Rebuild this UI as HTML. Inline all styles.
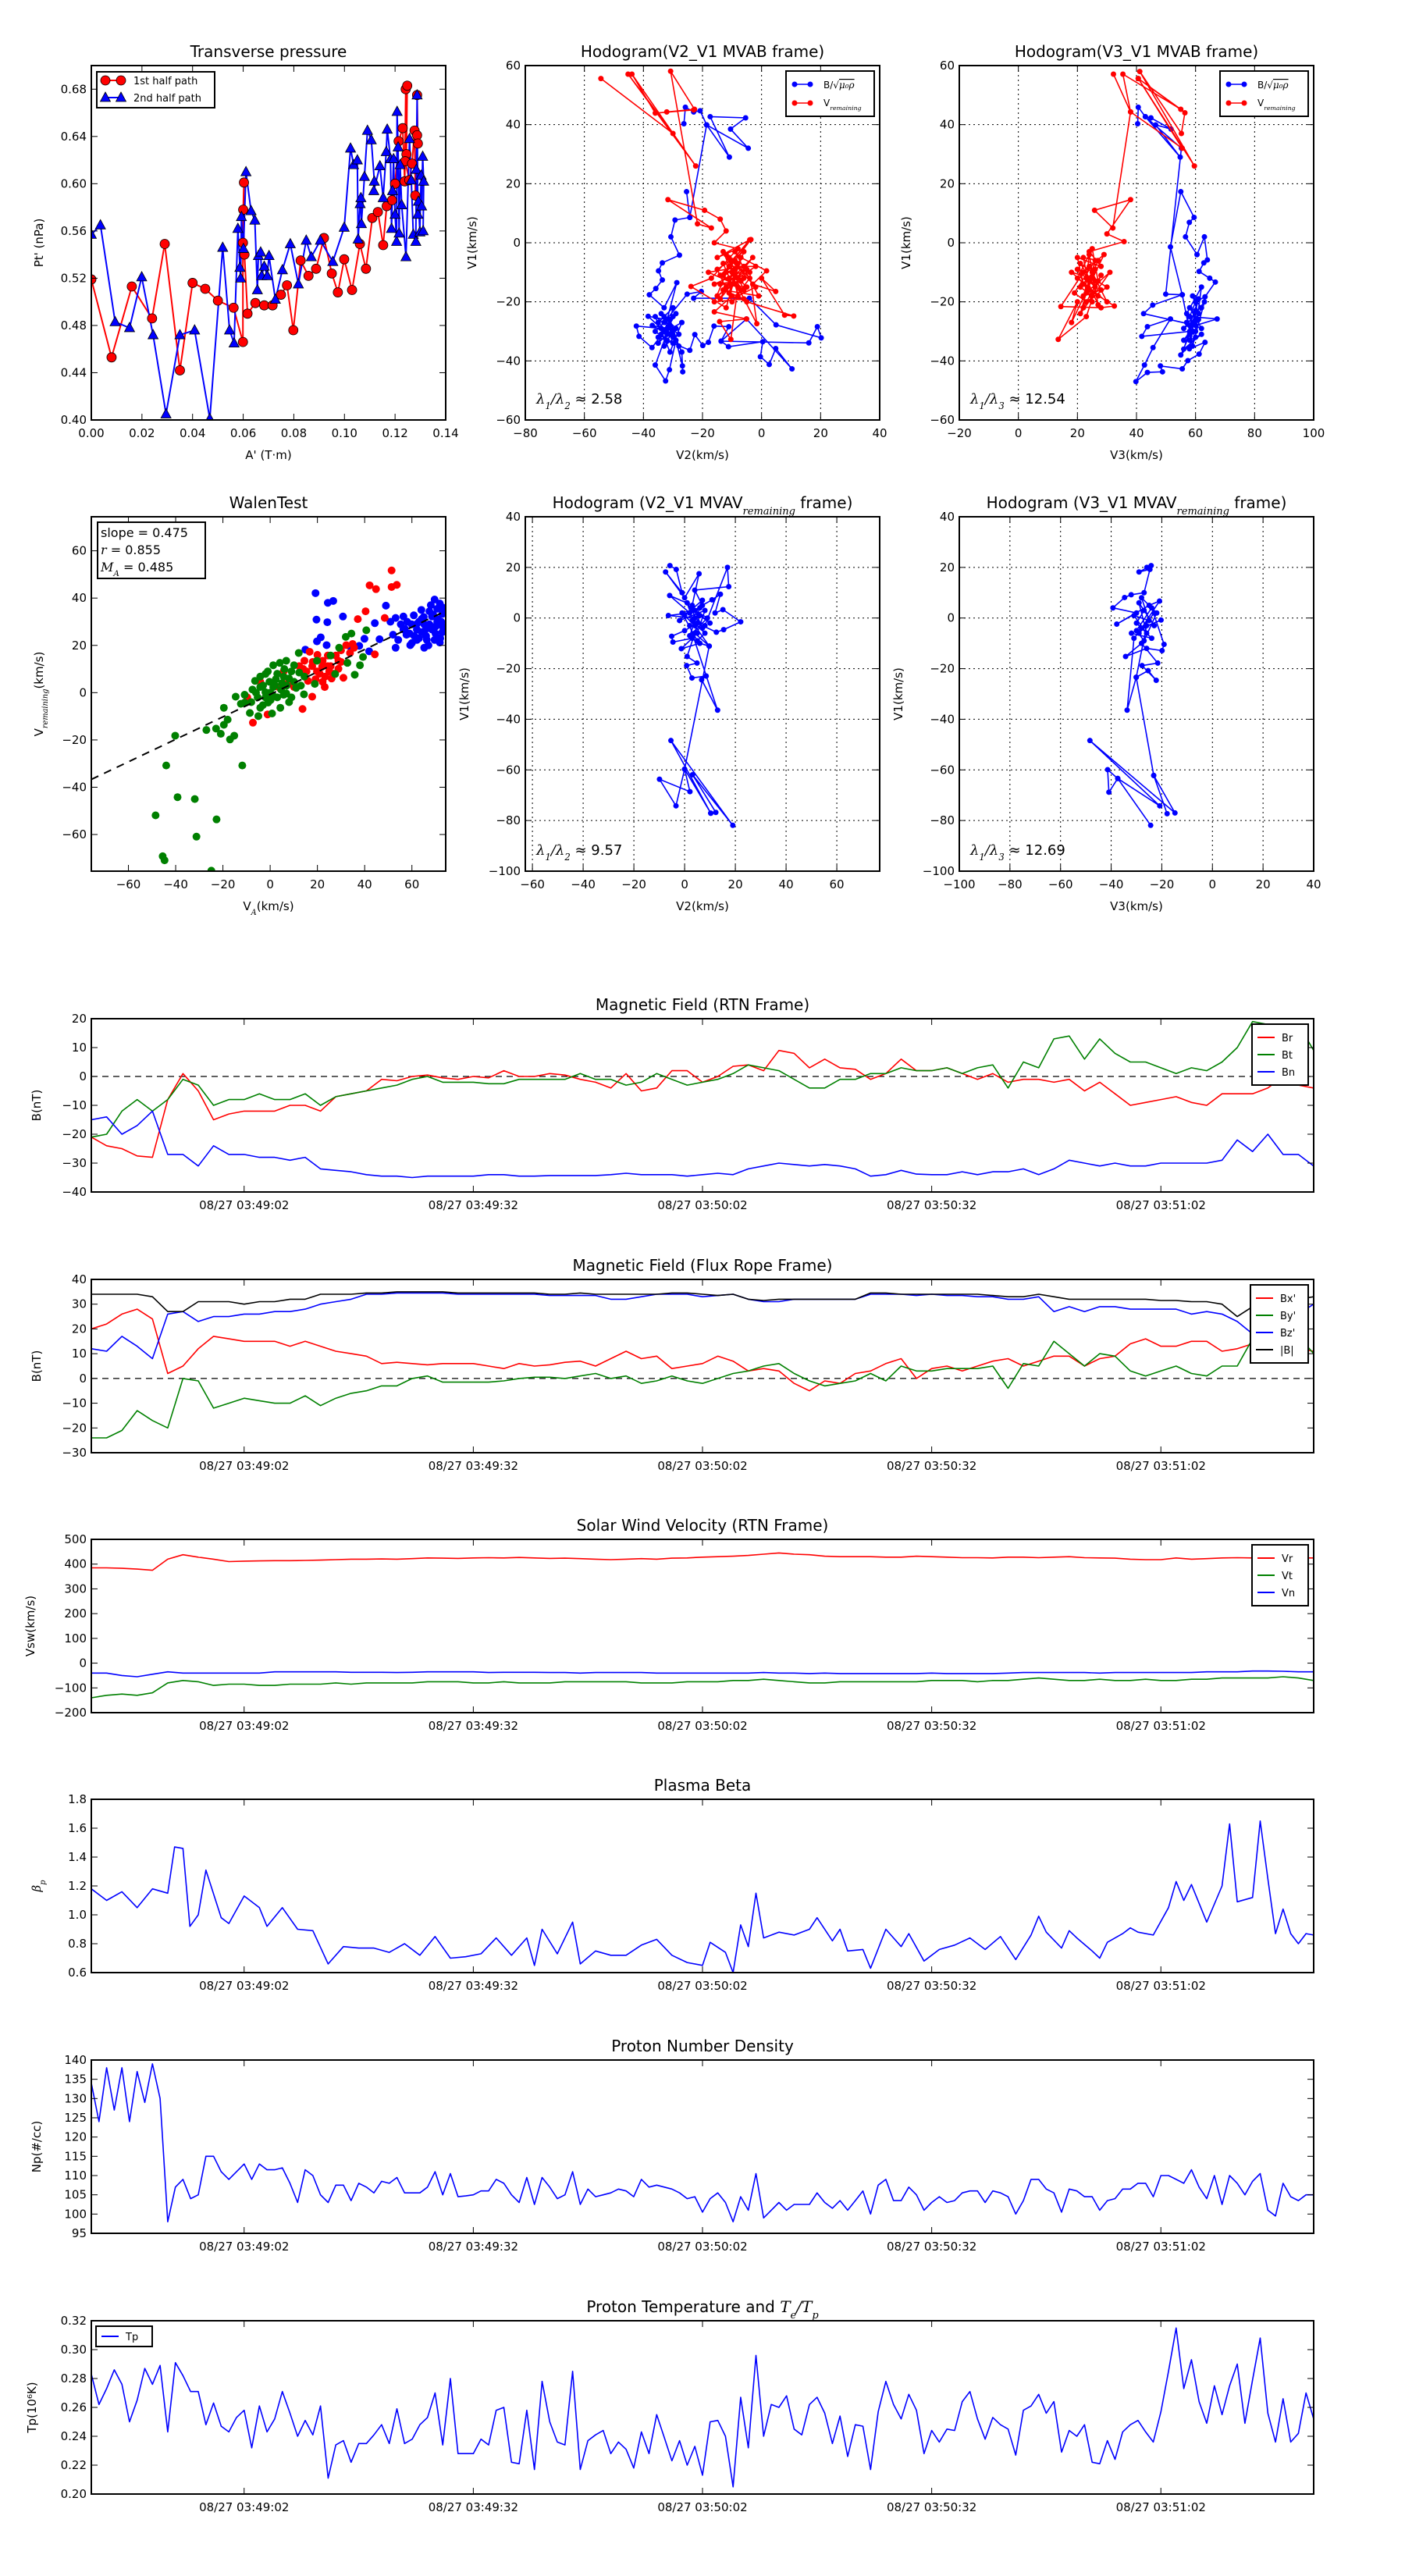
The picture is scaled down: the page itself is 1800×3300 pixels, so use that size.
<!DOCTYPE html>
<html><head><meta charset="utf-8"><title>Flux rope analysis</title>
<style>
html,body{margin:0;padding:0;background:#fff;}
svg{display:block;font-family:"DejaVu Sans","Liberation Sans",sans-serif;}
</style></head>
<body>
<svg id="fig" xmlns="http://www.w3.org/2000/svg" width="1800" height="3300" viewBox="0 0 1800 3300">
<rect x="0" y="0" width="1800" height="3300" fill="#fff"/>
</svg>
<script>
// ---------- DATA ----------
const timeTickSec = [20,50,80,110,140];
const timeTickLabels = ["08/27 03:49:02","08/27 03:49:32","08/27 03:50:02","08/27 03:50:32","08/27 03:51:02"];

const tpRed = [[0,0.519],[0.008,0.453],[0.016,0.513],[0.024,0.486],[0.029,0.549],[0.035,0.442],[0.040,0.516],[0.045,0.511],[0.050,0.501],[0.0562,0.495],[0.0599,0.466],[0.0599,0.550],[0.0603,0.601],[0.060,0.578],[0.0605,0.540],[0.0617,0.490],[0.0648,0.499],[0.0683,0.497],[0.0716,0.497],[0.0749,0.506],[0.0773,0.514],[0.0798,0.476],[0.0827,0.535],[0.0858,0.522],[0.0888,0.528],[0.0919,0.554],[0.095,0.524],[0.0974,0.508],[0.0999,0.536],[0.103,0.510],[0.1061,0.549],[0.1085,0.528],[0.111,0.571],[0.1132,0.576],[0.1153,0.548],[0.1167,0.581],[0.1188,0.586],[0.12,0.600],[0.1214,0.636],[0.123,0.647],[0.1238,0.602],[0.1242,0.680],[0.1248,0.683],[0.1245,0.625],[0.124,0.619],[0.1256,0.603],[0.1267,0.617],[0.1277,0.645],[0.128,0.590],[0.1287,0.641],[0.129,0.634],[0.1287,0.675]];
const tpBlue = [[0,0.557],[0.0036,0.565],[0.0094,0.483],[0.0151,0.478],[0.0199,0.521],[0.0244,0.472],[0.0295,0.405],[0.035,0.472],[0.0408,0.476],[0.0468,0.401],[0.0519,0.546],[0.0546,0.476],[0.0564,0.465],[0.0579,0.562],[0.0587,0.529],[0.059,0.520],[0.0593,0.572],[0.0601,0.545],[0.0611,0.610],[0.0631,0.577],[0.0646,0.569],[0.0656,0.510],[0.066,0.539],[0.0669,0.542],[0.0673,0.522],[0.0683,0.530],[0.0695,0.522],[0.0702,0.539],[0.0727,0.502],[0.0755,0.527],[0.0786,0.549],[0.0818,0.515],[0.0849,0.552],[0.0869,0.538],[0.0905,0.552],[0.0954,0.534],[0.0999,0.563],[0.1024,0.630],[0.1036,0.616],[0.1051,0.620],[0.1054,0.553],[0.1062,0.583],[0.1065,0.588],[0.1067,0.566],[0.1079,0.606],[0.1091,0.645],[0.1106,0.637],[0.1118,0.602],[0.1116,0.594],[0.1140,0.615],[0.1153,0.588],[0.1165,0.627],[0.1169,0.646],[0.1182,0.621],[0.1186,0.562],[0.119,0.594],[0.1194,0.621],[0.12,0.574],[0.1206,0.551],[0.1208,0.661],[0.1212,0.631],[0.1216,0.558],[0.122,0.616],[0.1226,0.582],[0.1243,0.538],[0.1257,0.638],[0.1264,0.603],[0.1272,0.557],[0.1282,0.551],[0.1284,0.612],[0.1287,0.675],[0.129,0.574],[0.1292,0.585],[0.1298,0.559],[0.1303,0.607],[0.1305,0.581],[0.1309,0.623],[0.1313,0.602],[0.1311,0.560]];

const hodoAB = [[-26.3,40.3],[-25.8,45.9],[-23,44.3],[-20.8,44.7],[-18.6,39.9],[-10.9,29],[-17.4,42.7],[-5.4,42.3],[-10.5,38.5],[-4.5,32],[-18.6,39.9],[-24.3,8.6],[-25.4,17.3],[-24.3,8.6],[-29.3,7.7],[-30.7,2],[-27.8,-4.2],[-33.6,-6.8],[-34.9,-9.5],[-33.6,-12.6],[-35.8,-15.5],[-38,-17.6],[-33,-22],[-28.7,-13.5],[-32,-26],[-38.4,-24.9],[-34,-29],[-42.4,-28.2],[-41.5,-31.7],[-37.1,-35.5],[-33,-30],[-30,-25],[-36,-41.4],[-32.5,-46.8],[-31.2,-43],[-29,-33],[-26.8,-41.7],[-26.7,-43.7],[-27,-37],[-31,-28],[-35,-32],[-30,-34],[-24.3,-36.4],[-22.6,-31.1],[-19.9,-34.8],[-18,-33.7],[-16.1,-28.2],[-11.1,-28.4],[-13.7,-33.3],[-11.2,-35.2],[0.4,-33.5],[-0.4,-38.6],[2.6,-41.2],[4.8,-35.8],[10.3,-42.7],[-5.1,-25.8],[-13.7,-33.3],[16,-33.9],[18.9,-28.4],[20.2,-32.2],[4.9,-27.8],[-4.1,-18.8],[-23,-18.8],[-20.4,-16.5],[-25.2,-17.4],[-33,-27],[-36,-30],[-32,-33],[-29,-29],[-34,-24],[-31,-31],[-35,-27],[-30,-22],[-33,-35],[-28,-31],[-36,-25],[-31,-37],[-27,-27],[-34,-31],[-29,-24],[-32,-29],[-37,-28],[-30,-32],[-33,-25],[-28,-35],[-31,-26],[-35,-34],[-32,-31]];
const hodoAV = [[-54.4,55.6],[-30,37],[-45.2,57.1],[-22.3,26],[-43.9,57.1],[-36,43.9],[-23,45],[-32.1,44.3],[-22.7,45.2],[-30.8,58.1],[-21.7,6.4],[-17,5],[-31.7,14.6],[-19.3,11],[-14,8],[-12,4],[-16,0],[-8,-2],[-15,-5],[-4,1],[-10,-6],[-3.6,1.1],[-12,-10],[-6,-8],[-18,-10],[-9,-14],[-14,-14],[-5,-15],[-8,-12],[-2,-8],[-11,-8],[-16,-20],[-6,-19],[-13,-16],[-1,-18],[-9,-3],[-17,-12],[-23.9,-14.8],[-12,-22],[-7,-5],[1.7,-9.5],[-3,-14],[4.8,-16.5],[0,-12],[7.8,-24.5],[10.9,-24.8],[-5,-20],[-10,-18],[-16,-23.4],[-5.1,-25.8],[-14.2,-26.7],[-10.4,-32.7],[-8,-15],[-1.6,-27.4],[-4,-10],[-13,-7],[-10,-14],[-15,-18],[-6,-12],[-11,-12],[-9,-9],[-13,-11],[-7,-16],[-12,-4],[-4,-12],[-10,-20],[-15,-9],[-6,-3],[-11,-17],[-8,-7],[-14,-19],[-3,-5],[-9,-11],[-12,-15],[-5,-9],[-16,-14],[-7,-13],[-10,-10],[-13,-3],[-2,-15],[-8,-18],[-11,-5],[-6,-16],[-14,-11],[-9,-6]];
const hodoBB = [[40.4,40.3],[40.6,45.9],[43,42.7],[44.9,42.3],[51.7,38.5],[46.5,39.9],[54.8,29],[43,42.7],[55.2,32],[49.9,-17.4],[55.5,-17.6],[51.5,-1.4],[55,17.3],[59.5,8.6],[57.9,6.9],[56.6,2],[60.5,-4],[63,2],[64,-5.8],[62.8,-6.8],[61.2,-9.7],[64.8,-12],[66.7,-13.3],[63.2,-18.3],[60,-20],[58,-25],[67.3,-25.8],[60,-28],[42.4,-24],[45.5,-21.1],[55.5,-17.6],[58,-30],[41.8,-31.7],[43.7,-28.4],[51.5,-25.8],[45.6,-35.5],[42.7,-41.4],[39.8,-47],[43.7,-43.9],[48.8,-43.7],[48.1,-41.7],[55.5,-42.7],[57.4,-39.9],[61.2,-37.7],[63.2,-33.7],[57.9,-35.9],[59,-30],[56,-33],[61,-26],[58,-22],[62,-29],[57,-27],[60,-32],[55,-38],[62,-22],[59,-18],[61,-24],[58,-31],[60,-26],[56,-29],[63,-20],[59,-35],[57,-24],[62,-15],[60,-30],[58,-28],[61,-19],[59,-27],[56,-36],[62,-31],[58,-33],[60,-23]];
const hodoBV = [[32.2,57.1],[38,44.3],[35.4,57.1],[55,45.2],[40.6,55.6],[56.4,44],[55.2,37],[41.1,58],[59.6,26],[40.6,55.6],[55.5,32],[38,44.3],[32,5],[25.8,11],[38,14.6],[30,3],[35.8,0.4],[24,-3],[28,-8],[20,-5],[22,-14],[27,-18],[18,-10],[25,-12],[30,-15],[23,-20],[19,-17],[26,-6],[21,-24],[31,-10],[24,-16],[32.5,-21.4],[28,-22],[14.4,-21.6],[22,-10],[29,-4],[18,-27],[20,-20],[13.5,-32.7],[23,-25],[27,-13],[25,-2],[20,-12],[30,-20],[24,-8],[28,-16],[22,-18],[25,-10],[21,-7],[26,-15],[23,-12],[27,-21],[24,-4],[22,-22],[28,-11],[25,-18],[21,-15],[26,-9],[23,-17],[24,-13],[27,-6],[22,-5],[25,-20],[20,-9],[26,-13]];

const walenGreen = [[-40.2,-18.2],[-44,-30.8],[-11.8,-30.8],[-39.2,-44.2],[-31.9,-45],[-48.5,-51.9],[-22.7,-53.6],[-31.2,-60.9],[-45.5,-69.2],[-44.7,-70.9],[-24.9,-75.3],[-27,-15.8],[-17,-19.8],[-20.9,-17.4],[-15.2,-18.2],[-22.9,-15.2],[-19.6,-13.6],[-18,-11.4],[-19.6,-6.4],[-14.6,-1.7],[-10.8,-0.9],[-8.6,-8.6],[-5,-9.9],[0.8,-8.8],[4.3,-6.4],[8,-4],[14.3,-0.7],[18.9,3.7],[12.1,16.8],[19.8,13.5],[25.6,15.7],[29.2,19],[32,23.6],[34.4,25],[40.7,26.4],[39.3,15.1],[38,11.6],[35.8,7.6],[32.7,12.6],[27.5,7.9],[1.3,11.6],[4.1,12.6],[6.8,13.5],[10.1,11.6],[-6.4,5],[-4.2,6.8],[-2,7.9],[-0.3,4.6],[2.4,5.7],[5.7,6.8],[9,9],[12.3,8.5],[14.5,6.8],[-7.5,1.3],[-4.2,2.4],[-2,0.2],[1.3,2.4],[4.6,1.3],[6.8,-0.3],[10.1,4.6],[-5.3,-2],[-3.1,-5.3],[0.2,-3.1],[3,-2],[5.7,-0.9],[-12.4,-4.7],[-10.8,-4.2],[-4.2,-6.4],[-0.9,-4.2],[0,0],[2,3],[-2,-2],[7,3],[3,8],[-1,9],[8,6],[11,2],[-6,0],[1,-1],[5,4],[-3,3],[9,-2],[6,10],[-8,-4],[13,3]];
const walenRed = [[51.4,51.7],[42.1,45.4],[44.8,43.8],[51.4,44.7],[53.6,45.6],[40.4,34.4],[37.1,31.1],[48.5,31.6],[44.3,16.2],[34.9,20.6],[33.8,16.8],[31,6.3],[24.4,11.2],[22.2,4.6],[23.1,2.4],[17.8,-1.7],[13.7,-6.9],[-7.3,-12.7],[-1.1,-9.2],[-9.7,-2],[16.7,17.3],[14.5,13.5],[17.8,11.2],[19.8,9],[22.2,13.5],[25.6,11.2],[27.8,15.7],[30,17.9],[32.2,20.1],[15.4,9],[12.3,11.2],[10.1,2.4],[7.9,4.6],[5.7,9],[3.5,2.4],[-4.2,4.6],[23.3,6.8],[28.9,10.1],[24.4,15.7],[35.5,19],[28.9,13.5],[19.2,5.7],[21,8],[18,13],[26,6],[16,5],[20,16],[25,9],[30,13],[14,10],[22,11],[27,8]];
const walenBlue = [[19.2,42.1],[24.4,38],[26.7,38.8],[19.6,30.9],[24.2,29.8],[30.8,32.2],[49,36.8],[44.3,29.4],[19.8,21.7],[21.4,23.4],[23.9,20.1],[39.9,22.8],[46.3,22.6],[37.7,19.8],[34.1,19.2],[41.9,17.5],[14.9,18.2],[50.9,30],[53.1,31.6],[56.4,32.2],[60.8,32.7],[64.1,31.1],[67.4,34.4],[69.6,39.4],[71.8,37.7],[72.9,33.3],[70.7,30],[68.5,26.7],[66.3,22.3],[65.2,19],[62.1,22.3],[59.9,28.9],[56.4,26.7],[53.1,19],[52,24.5],[54.2,22.3],[59.3,20.1],[57.7,24.5],[64.1,25.6],[62.1,26.7],[72.9,25.6],[71.8,21.2],[69.6,22.3],[67.4,28.9],[72.4,30],[65.2,28.9],[74,35.5],[55.3,28.9],[63,30],[68.5,32.2],[70.7,35.5],[58,30],[61,24],[66,27],[70,25],[73,28],[69,33],[64,35],[60,21],[67,20],[71,31],[57,27],[63,23],[68,37],[72,23],[65,32],[62,29],[66,24],[70,28],[59,25],[73,36]];
const walenSlope = 0.475;
const walenIntercept = -0.74;

const hodoCV = [[-5.8,20.7],[-3.3,19.2],[-1,10],[-7.5,18.2],[0,8],[5.7,17.5],[3,5],[-5.9,8.9],[2,2],[-6.4,1],[4,0],[8,-3],[16.9,20],[17.4,12.4],[4,11],[7,5],[10.8,7.2],[14.1,9.4],[12,2],[15.1,3.3],[22.1,-1.5],[15.4,-4.6],[12.5,-5.6],[5,-2],[0,-5],[-5.1,-7.2],[-4.6,-9.5],[3,-8],[-1.3,-12.1],[6,-10],[9.7,-11.1],[4,-6],[1,-15.2],[4.9,-17.8],[0.8,-18.8],[2.9,-23.7],[8.5,-22.9],[6.7,-24.4],[13,-36.4],[2,-3],[6,1],[10,-2],[3,4],[-2,-1],[8,3],[5,-6],[1,6],[7,-4],[4,3],[9,0],[2,-7],[6,4],[-1,2],[5,-9],[8,-6],[3,-1],[7,7],[0,1],[4,-3],[9.7,-11.1],[0,-59.7],[2.1,-68.6],[-9.9,-63.7],[-3.4,-74.2],[0,-59.7],[10.3,-77.1],[-5.4,-48.4],[19,-81.9],[3.1,-61.9],[12.3,-76.8],[10.3,-77.1]];
const hodoDV = [[-25.9,20],[-24.2,20.7],[-29,18.2],[-24.7,19.2],[-27,10],[-32.1,9.2],[-34.7,8.1],[-39.3,4],[-30,2],[-37.8,-2.4],[-25,5],[-20.9,6.7],[-28,-4],[-20.3,-0.8],[-32,-6],[-24,-8],[-30,-2],[-27,3],[-23,-3],[-29,6],[-26,-6],[-31,1],[-25,-1],[-28,8],[-22,2],[-27,-9],[-30,-5],[-24,4],[-19.1,-10.4],[-19.9,-12.9],[-26,-12],[-34.3,-15.2],[-28,-10],[-21.6,-17.8],[-27.8,-18.8],[-22.2,-24.6],[-25.4,-20.8],[-30.1,-23.4],[-33.7,-36.4],[-31,-8],[-23,2],[-29,-6],[-26,-3],[-30.1,-23.4],[-23.2,-62.2],[-17.9,-77.3],[-23.2,-62.2],[-14.8,-77],[-48.4,-48.4],[-20.8,-74.2],[-37.4,-63.4],[-41.4,-59.9],[-40.9,-68.8],[-37.4,-63.4],[-24.4,-81.9]];

// time series (evenly spaced over 0..160 s)
const brVals = [-21,-24,-25,-27.5,-28,-8,1,-5,-15,-13,-12,-12,-12,-10,-10,-12,-7,-6,-5,-1,-1.5,0,0.5,-0.5,-1,0,-0.5,2,0,0,1,0.5,-1,-2,-4,1,-5,-4,2,2,-2,0,3.5,4,2,9,8,3,6,3,2.5,-1,1,6,2,2,3,1,-1,1,-2,-1,-1,-2,-1,-5,-2,-6,-10,-9,-8,-7,-9,-10,-6,-6,-6,-4,0,-3,-4];
const btVals = [-21,-20,-12,-8,-12,-8,-1,-3,-10,-8,-8,-6,-8,-8,-6,-10,-7,-6,-5,-4,-3,-1,0,-2,-2,-2,-2.5,-2.5,-1,-1,-1,-1,1,-1,-1,-3,-2,1,-1,-3,-2,-1,1,4,3,2,-1,-4,-4,-1,-1,1,1,3,2,2,3,1,3,4,-4,5,3,13,14,6,13,8,5,5,3,1,3,2,5,10,19,18,17,18,9];
const bnVals = [-15,-14,-20,-17,-12,-27,-27,-31,-24,-27,-27,-28,-28,-29,-28,-32,-32.5,-33,-34,-34.5,-34.5,-35,-34.5,-34.5,-34.5,-34.5,-34,-34,-34.5,-34.5,-34.3,-34.3,-34.3,-34.3,-34,-33.5,-34,-34,-34,-34.5,-34,-33.5,-34,-32,-31,-30,-30.5,-31,-30.5,-31,-32,-34.5,-34,-32.5,-33.8,-34,-34,-33,-34,-33,-33,-32,-34,-32,-29,-30,-31,-30,-31,-31,-30,-30,-30,-30,-29,-22,-26,-20,-27,-27,-31];
const bxVals = [20,22,26,28,24,2,5,12,17,16,15,15,15,13,15,13,11,10,9,6,6.5,6,5.5,6,6,6,5,4,6,5,5.5,6.5,7,5,8,11,8,9,4,5,6,9,7,3,4,3,-2,-5,-1,-2,2,3,6,8,0,4,5,3,5,7,8,5,7,9,9,5,8,9,14,16,13,13,15,15,11,12,14,10,9,12,11];
const byVals = [-24,-24,-21,-13,-17,-20,0,-1,-12,-10,-8,-9,-10,-10,-7,-11,-8,-6,-5,-3,-3,0,1,-1.5,-1.5,-1.5,-1.5,-1,0,0.5,0.5,0,1,2,0,1,-2,-1,1,-1,-2,0,2,3,5,6,2,-1,-3,-2,-1,2,-1,5,3,3,4,4,4,5,-4,6,5,15,10,5,10,9,3,1,3,5,2,1,5,5,16,17,18,17,10];
const bzVals = [12,11,17,13,8,26,27,23,25,25,26,26,27,27,28,30,31,32,34,34,34.5,34.5,34.5,34.5,34,34,34,34,34,34,33.5,33.5,33.5,33.5,32,32,33,34,34,34,33,33.5,34,32,31,31,32,32,32,32,32,34,34,34,33.5,34,33.5,33.5,33,33,32,32,33,27,29,27,29,29,28,28,28,28,26,27,26,23,18,22,25,26,30];
const btotVals = [34,34,34,34,33,27,27,31,31,31,30,31,31,32,32,34,34,34,34.5,34.5,35,35,35,35,34.5,34.5,34.5,34.5,34.5,34.5,34,34,34.5,34,34,34,34,34,34.5,34.5,34,33.5,34,32,31.5,32,32,32,32,32,32,34.5,34.5,34,34,34,34,34,34,33.5,33,33,34,33,32,32,32,32,32,32,31.5,31.5,31,31,30,25,29,31,31,32,33];
const vrVals = [385,385,383,380,375,420,438,428,420,410,412,413,414,414,415,416,418,420,420,421,420,422,425,424,423,425,426,425,427,425,423,424,422,420,418,420,422,420,424,425,428,430,432,435,440,445,440,438,432,430,430,430,428,428,432,430,428,426,426,425,428,428,426,428,430,426,425,424,420,418,418,425,420,422,425,426,425,424,422,425,425];
const vtVals = [-140,-130,-125,-130,-120,-80,-70,-75,-90,-85,-85,-90,-90,-85,-85,-85,-80,-85,-80,-80,-80,-80,-75,-75,-75,-80,-80,-75,-80,-80,-80,-75,-75,-75,-75,-75,-80,-80,-80,-75,-75,-75,-70,-70,-65,-70,-75,-80,-80,-75,-75,-75,-75,-75,-75,-70,-70,-70,-75,-70,-70,-65,-60,-65,-70,-70,-65,-70,-70,-65,-70,-70,-65,-65,-60,-60,-60,-60,-55,-60,-70];
const vnVals = [-40,-40,-50,-55,-45,-35,-40,-40,-40,-40,-40,-40,-35,-35,-35,-35,-35,-37,-37,-37,-38,-37,-35,-35,-35,-35,-38,-37,-37,-37,-38,-38,-40,-38,-38,-38,-38,-40,-40,-40,-40,-40,-40,-40,-38,-40,-40,-42,-40,-42,-42,-42,-42,-42,-42,-40,-42,-42,-42,-42,-40,-38,-38,-38,-38,-38,-40,-38,-38,-38,-38,-38,-38,-35,-35,-35,-32,-32,-33,-35,-35];
const betaT = [0,2,4,6,8,10,10.9,12,12.9,14,15,17,18,20,22,23,25,27,29,31,33,35,37,39,41,43,45,47,49,51,53,55,57,58,59,61,63,64,66,68,70,72,74,76,78,80,81,83,84,85,86,87,88,90,92,94,95,97,98,99,101,102,104,106,107,109,111,113,115,117,119,121,123,124,125,127,128,129,131,132,133,135,136,137,139,141,142,143,144,146,148,149,150,152,153,154,155,156,157,158,159,160];
const betaVals = [1.18,1.1,1.16,1.05,1.18,1.15,1.47,1.46,0.92,1.0,1.31,0.98,0.94,1.13,1.05,0.92,1.05,0.9,0.89,0.66,0.78,0.77,0.77,0.74,0.80,0.72,0.85,0.70,0.71,0.73,0.84,0.72,0.84,0.65,0.9,0.73,0.95,0.66,0.75,0.72,0.72,0.79,0.83,0.72,0.67,0.65,0.81,0.74,0.6,0.93,0.78,1.15,0.84,0.88,0.86,0.90,0.98,0.82,0.90,0.75,0.76,0.63,0.90,0.78,0.87,0.68,0.76,0.79,0.84,0.76,0.85,0.69,0.86,0.99,0.88,0.77,0.89,0.84,0.75,0.70,0.81,0.87,0.91,0.88,0.86,1.05,1.23,1.10,1.21,0.95,1.2,1.63,1.09,1.12,1.65,1.25,0.87,1.04,0.87,0.8,0.87,0.86];
const npVals = [134,124,138,127,138,124,137,129,139,130,98,107,109,104,105,115,115,111,109,111,113,109,113,111.5,111.5,112,108,103,111.5,110,105,103,107.5,107.5,103.5,108,107,105.5,108.5,108,109.5,105.5,105.5,105.5,107,111,105,110.5,104.5,104.7,105,106,106,109,108,105,103,109.5,102.5,109.5,107,104,105,111,102.5,106.5,104.5,105,105.5,106.5,106,104.5,109,107,107.5,107,106.5,105.5,104,104.5,100.5,104,105.5,103,98,104.5,101,110.5,99,101,103,101,102.5,102.5,102.5,105.5,103,101.5,103.5,101,103.5,106,100,107.5,109,103.5,103.5,107,105,101,103,104.5,103,103.5,105.5,106,106,103,106,105.5,104.5,100,103.5,109,109,106.5,105.5,100.5,106.5,106,104.5,104.5,101,103.5,104,106.5,106.5,108,108,104.5,110,110,109,108,111.5,107,104,110,102.5,110,108,105,108.5,110.5,101,99.5,108,104.5,103.5,105,105];
const tpVals = [0.283,0.262,0.273,0.286,0.276,0.25,0.265,0.287,0.276,0.289,0.243,0.291,0.282,0.271,0.271,0.248,0.263,0.247,0.243,0.253,0.258,0.232,0.261,0.243,0.252,0.271,0.256,0.24,0.251,0.241,0.261,0.211,0.234,0.237,0.222,0.235,0.235,0.241,0.248,0.235,0.259,0.235,0.238,0.248,0.253,0.27,0.234,0.28,0.228,0.228,0.228,0.238,0.234,0.258,0.26,0.222,0.221,0.258,0.217,0.278,0.25,0.236,0.234,0.285,0.217,0.237,0.241,0.244,0.228,0.236,0.231,0.218,0.243,0.228,0.255,0.239,0.223,0.237,0.22,0.233,0.213,0.25,0.251,0.24,0.205,0.267,0.232,0.296,0.24,0.262,0.26,0.268,0.245,0.241,0.262,0.267,0.256,0.235,0.254,0.226,0.248,0.247,0.217,0.257,0.278,0.262,0.252,0.269,0.258,0.228,0.244,0.236,0.245,0.244,0.264,0.271,0.252,0.238,0.253,0.248,0.245,0.227,0.258,0.261,0.269,0.256,0.264,0.229,0.244,0.24,0.248,0.222,0.221,0.237,0.224,0.243,0.248,0.251,0.243,0.236,0.257,0.285,0.315,0.273,0.293,0.264,0.249,0.275,0.255,0.275,0.29,0.249,0.279,0.308,0.256,0.236,0.266,0.236,0.242,0.27,0.252];

// ---------- DRAWING ----------
const NS = 'http://www.w3.org/2000/svg';
const svg = document.getElementById('fig');
function el(tag, attrs, parent) {
  const e = document.createElementNS(NS, tag);
  for (const k in attrs) e.setAttribute(k, attrs[k]);
  (parent || svg).appendChild(e);
  return e;
}
function txt(str, attrs, parent) {
  const e = el('text', attrs, parent);
  e.textContent = str;
  return e;
}
const RED = '#ff0000', GREEN = '#008000', BLUE = '#0000ff';

function makeAxes(name, L, T, W, H, xr, yr, xticks, xlabels, yticks, ylabels, grid) {
  const g = el('g', {});
  
  
  const sx = v => L + (v - xr[0]) / (xr[1] - xr[0]) * W;
  const sy = v => T + H - (v - yr[0]) / (yr[1] - yr[0]) * H;
  const cp = el('clipPath', { id: name + '-clip' }, g);
  el('rect', { x: L, y: T, width: W, height: H }, cp);
  if (grid) {
    const gg = el('g', { stroke: '#000', 'stroke-width': 1, 'stroke-dasharray': '2,4' }, g);
    
    
    xticks.forEach(v => { const x = sx(v); el('line', { x1: x, x2: x, y1: T, y2: T + H }, gg); });
    yticks.forEach(v => { const y = sy(v); el('line', { x1: L, x2: L + W, y1: y, y2: y }, gg); });
  }
  const dataG = el('g', { 'clip-path': 'url(#' + name + '-clip)' }, g);
  
  
  const tg = el('g', { stroke: '#000', 'stroke-width': 1 }, g);
  xticks.forEach(v => { const x = sx(v);
    el('line', { x1: x, x2: x, y1: T + H, y2: T + H - 8 }, tg);
    el('line', { x1: x, x2: x, y1: T, y2: T + 8 }, tg); });
  yticks.forEach(v => { const y = sy(v);
    el('line', { x1: L, x2: L + 8, y1: y, y2: y }, tg);
    el('line', { x1: L + W, x2: L + W - 8, y1: y, y2: y }, tg); });
  const xl = el('g', { 'font-size': 15, 'text-anchor': 'middle', fill: '#000' }, g);
  
  
  xticks.forEach((v, i) => { txt(xlabels[i], { x: sx(v), y: T + H + 22 }, xl); });
  const yl = el('g', { 'font-size': 15, 'text-anchor': 'end', fill: '#000' }, g);
  
  
  yticks.forEach((v, i) => { txt(ylabels[i], { x: L - 6, y: sy(v) + 5 }, yl); });
  const fr = el('rect', { x: L, y: T, width: W, height: H, fill: 'none', stroke: '#000', 'stroke-width': 2 }, g);
  
  
  return { sx, sy, g, dataG, L, T, W, H };
}
function title(ax, str, name) {
  const t = txt(str, { x: ax.L + ax.W / 2, y: ax.T - 11, 'font-size': 20, 'text-anchor': 'middle' }, ax.g);
  
  
  return t;
}
function ylab(ax, str, x, name) {
  const cy = ax.T + ax.H / 2;
  const t = txt(str, { x: x, y: cy, 'font-size': 15, 'text-anchor': 'middle', transform: 'rotate(-90 ' + x + ' ' + cy + ')' }, ax.g);
  
  
  return t;
}
function xlab(ax, str, name) {
  const t = txt(str, { x: ax.L + ax.W / 2, y: ax.T + ax.H + 50, 'font-size': 15, 'text-anchor': 'middle' }, ax.g);
  
  
  return t;
}
function addSpan(t, str, attrs) { const s = el('tspan', attrs || {}, t); s.textContent = str; return s; }
function pathFromPts(ax, pts) {
  return pts.map((p, i) => (i ? 'L' : 'M') + ax.sx(p[0]).toFixed(1) + ',' + ax.sy(p[1]).toFixed(1)).join('');
}
const M = '\u2212';
function fmt(v, d) { const s = Math.abs(v).toFixed(d); return (v < 0 ? M : '') + s; }

// ---- Panel 1: transverse pressure ----
{
  const xt = [0, 0.02, 0.04, 0.06, 0.08, 0.10, 0.12, 0.14];
  const yt = [0.40, 0.44, 0.48, 0.52, 0.56, 0.60, 0.64, 0.68];
  const ax = makeAxes('transverse-pressure-chart', 117, 84, 454, 454, [0, 0.14], [0.40, 0.70], xt, xt.map(v => v.toFixed(2)), yt, yt.map(v => v.toFixed(2)), false);
  title(ax, 'Transverse pressure', 'transverse-pressure-title');
  ylab(ax, "Pt' (nPa)", 55, 'pt-y-axis-title');
  xlab(ax, "A' (T\u00b7m)", 'a-x-axis-title');
  const lr = el('path', { d: pathFromPts(ax, tpRed), fill: 'none', stroke: RED, 'stroke-width': 2 }, ax.dataG);
  
  
  const lb = el('path', { d: pathFromPts(ax, tpBlue), fill: 'none', stroke: BLUE, 'stroke-width': 2 }, ax.dataG);
  
  
  tpRed.forEach(p => {
    const c = el('circle', { cx: ax.sx(p[0]), cy: ax.sy(p[1]), r: 6, fill: RED, stroke: '#000', 'stroke-width': 0.8 }, ax.dataG);
    
    
  });
  tpBlue.forEach(p => {
    const x = ax.sx(p[0]), y = ax.sy(p[1]);
    const c = el('polygon', { points: `${x},${y - 7} ${x - 6.5},${y + 5} ${x + 6.5},${y + 5}`, fill: BLUE, stroke: '#000', 'stroke-width': 0.8 }, ax.dataG);
    
    
  });
  const lg = el('g', {}, ax.g);
  
  
  el('rect', { x: 124, y: 92, width: 151, height: 46, fill: '#fff', stroke: '#000', 'stroke-width': 2 }, lg);
  el('line', { x1: 135, x2: 155, y1: 103, y2: 103, stroke: RED, 'stroke-width': 2 }, lg);
  el('circle', { cx: 135, cy: 103, r: 6, fill: RED, stroke: '#000', 'stroke-width': 0.8 }, lg);
  el('circle', { cx: 155, cy: 103, r: 6, fill: RED, stroke: '#000', 'stroke-width': 0.8 }, lg);
  txt('1st half path', { x: 171, y: 108, 'font-size': 13 }, lg);
  el('line', { x1: 135, x2: 155, y1: 125, y2: 125, stroke: BLUE, 'stroke-width': 2 }, lg);
  el('polygon', { points: '135,118 128.5,130 141.5,130', fill: BLUE, stroke: '#000', 'stroke-width': 0.8 }, lg);
  el('polygon', { points: '155,118 148.5,130 161.5,130', fill: BLUE, stroke: '#000', 'stroke-width': 0.8 }, lg);
  txt('2nd half path', { x: 171, y: 130, 'font-size': 13 }, lg);
}

function hodoLegend(ax, x, y, name) {
  const lg = el('g', {}, ax.g);
  
  
  el('rect', { x: x, y: y, width: 113, height: 58, fill: '#fff', stroke: '#000', 'stroke-width': 2 }, lg);
  el('line', { x1: x + 11, x2: x + 31, y1: y + 17, y2: y + 17, stroke: BLUE, 'stroke-width': 1.5 }, lg);
  el('circle', { cx: x + 11, cy: y + 17, r: 3.5, fill: BLUE }, lg);
  el('circle', { cx: x + 31, cy: y + 17, r: 3.5, fill: BLUE }, lg);
  const t1 = txt('B/\u221a', { x: x + 48, y: y + 22, 'font-size': 12 }, lg);
  addSpan(t1, '\u03bc\u2080\u03c1', { 'font-style': 'italic', 'font-family': 'DejaVu Serif, serif', 'text-decoration': 'overline' });
  el('line', { x1: x + 11, x2: x + 31, y1: y + 41, y2: y + 41, stroke: RED, 'stroke-width': 1.5 }, lg);
  el('circle', { cx: x + 11, cy: y + 41, r: 3.5, fill: RED }, lg);
  el('circle', { cx: x + 31, cy: y + 41, r: 3.5, fill: RED }, lg);
  const t2 = txt('V', { x: x + 48, y: y + 45, 'font-size': 12 }, lg);
  addSpan(t2, 'remaining', { 'baseline-shift': 'sub', 'font-size': '65%', 'font-style': 'italic', 'font-family': 'DejaVu Serif, serif' });
}
function lambdaText(ax, a, b, val, name) {
  const t = txt('\u03bb', { x: ax.L + 14, y: ax.T + ax.H - 21, 'font-size': 18, 'font-family': 'DejaVu Serif, serif', 'font-style': 'italic' }, ax.g);
  addSpan(t, a, { 'baseline-shift': 'sub', 'font-size': '65%' });
  addSpan(t, '/\u03bb', { 'baseline-shift': '0' });
  addSpan(t, b, { 'baseline-shift': 'sub', 'font-size': '65%' });
  addSpan(t, ' \u2248 ' + val, { 'font-style': 'normal', 'font-family': 'DejaVu Sans, sans-serif' });
  
  
}
function drawPath(ax, pts, color, name) {
  const p = el('path', { d: pathFromPts(ax, pts), fill: 'none', stroke: color, 'stroke-width': 1.6 }, ax.dataG);
  
  
  pts.forEach(q => {
    const c = el('circle', { cx: ax.sx(q[0]), cy: ax.sy(q[1]), r: 3.5, fill: color }, ax.dataG);
    
    
  });
}

// ---- Panel 2: hodogram V2-V1 MVAB ----
{
  const xt = [-80, -60, -40, -20, 0, 20, 40];
  const yt = [-60, -40, -20, 0, 20, 40, 60];
  const ax = makeAxes('hodogram-v2-v1-mvab', 673, 84, 454, 454, [-80, 40], [-60, 60], xt, xt.map(v => fmt(v, 0)), yt, yt.map(v => fmt(v, 0)), true);
  title(ax, 'Hodogram(V2_V1 MVAB frame)', 'hodogram-v2-v1-mvab-title');
  ylab(ax, 'V1(km/s)', 610, 'hodogram-v2-v1-mvab-y-axis-title');
  xlab(ax, 'V2(km/s)', 'hodogram-v2-v1-mvab-x-axis-title');
  drawPath(ax, hodoAB, BLUE, 'b-alfven-series');
  drawPath(ax, hodoAV, RED, 'v-remaining-series');
  hodoLegend(ax, 1007, 91, 'hodogram-v2-v1-mvab-legend');
  lambdaText(ax, '1', '2', '2.58', 'eigenvalue-ratio-text');
}
// ---- Panel 3: hodogram V3-V1 MVAB ----
{
  const xt = [-20, 0, 20, 40, 60, 80, 100];
  const yt = [-60, -40, -20, 0, 20, 40, 60];
  const ax = makeAxes('hodogram-v3-v1-mvab', 1229, 84, 454, 454, [-20, 100], [-60, 60], xt, xt.map(v => fmt(v, 0)), yt, yt.map(v => fmt(v, 0)), true);
  title(ax, 'Hodogram(V3_V1 MVAB frame)', 'hodogram-v3-v1-mvab-title');
  ylab(ax, 'V1(km/s)', 1166, 'hodogram-v3-v1-mvab-y-axis-title');
  xlab(ax, 'V3(km/s)', 'hodogram-v3-v1-mvab-x-axis-title');
  drawPath(ax, hodoBB, BLUE, 'b-alfven-series');
  drawPath(ax, hodoBV, RED, 'v-remaining-series');
  hodoLegend(ax, 1563, 91, 'hodogram-v3-v1-mvab-legend');
  lambdaText(ax, '1', '3', '12.54', 'eigenvalue-ratio-text');
}
// ---- Walen test ----
{
  const xt = [-60, -40, -20, 0, 20, 40, 60];
  const yt = [-60, -40, -20, 0, 20, 40, 60];
  const ax = makeAxes('walen-test-chart', 117, 662, 454, 454, [-75.7, 74.3], [-75.5, 74.4], xt, xt.map(v => fmt(v, 0)), yt, yt.map(v => fmt(v, 0)), false);
  title(ax, 'WalenTest', 'walen-test-title');
  const yl = ylab(ax, 'V', 55, 'walen-y-axis-title');
  addSpan(yl, 'remaining', { 'baseline-shift': 'sub', 'font-size': '65%', 'font-style': 'italic', 'font-family': 'DejaVu Serif, serif' });
  addSpan(yl, '(km/s)', { 'baseline-shift': '0' });
  const xl = xlab(ax, 'V', 'walen-x-axis-title');
  addSpan(xl, 'A', { 'baseline-shift': 'sub', 'font-size': '65%', 'font-style': 'italic', 'font-family': 'DejaVu Serif, serif' });
  addSpan(xl, '(km/s)', { 'baseline-shift': '0' });
  const groups = [[walenBlue, BLUE, 'walen-blue-point'], [walenRed, RED, 'walen-red-point'], [walenGreen, GREEN, 'walen-green-point']];
  groups.forEach(gr => gr[0].forEach(p => {
    const c = el('circle', { cx: ax.sx(p[0]), cy: ax.sy(p[1]), r: 5, fill: gr[1] }, ax.dataG);
    
    
  }));
  const x0 = -75.7, x1 = 74.3;
  const fl = el('line', { x1: ax.sx(x0), y1: ax.sy(walenSlope * x0 + walenIntercept), x2: ax.sx(x1), y2: ax.sy(walenSlope * x1 + walenIntercept), stroke: '#000', 'stroke-width': 2, 'stroke-dasharray': '10,8' }, ax.dataG);
  
  
  const bx = el('g', {}, ax.g);
  
  
  el('rect', { x: 125, y: 669, width: 138, height: 72, fill: '#fff', stroke: '#000', 'stroke-width': 2 }, bx);
  txt('slope = 0.475', { x: 129, y: 688, 'font-size': 16 }, bx);
  const r = txt('r', { x: 129, y: 710, 'font-size': 16, 'font-style': 'italic', 'font-family': 'DejaVu Serif, serif' }, bx);
  addSpan(r, ' = 0.855', { 'font-style': 'normal', 'font-family': 'DejaVu Sans, sans-serif' });
  const m = txt('M', { x: 129, y: 732, 'font-size': 16, 'font-style': 'italic', 'font-family': 'DejaVu Serif, serif' }, bx);
  addSpan(m, 'A', { 'baseline-shift': 'sub', 'font-size': '65%' });
  addSpan(m, ' = 0.485', { 'baseline-shift': '0', 'font-style': 'normal', 'font-family': 'DejaVu Sans, sans-serif' });
}
// ---- Hodogram MVAV V2 ----
{
  const xt = [-60, -40, -20, 0, 20, 40, 60];
  const yt = [-100, -80, -60, -40, -20, 0, 20, 40];
  const ax = makeAxes('hodogram-v2-v1-mvav', 673, 662, 454, 454, [-62.8, 76.9], [-100, 40], xt, xt.map(v => fmt(v, 0)), yt, yt.map(v => fmt(v, 0)), true);
  const t = title(ax, 'Hodogram (V2_V1 MVAV', 'hodogram-v2-v1-mvav-title');
  addSpan(t, 'remaining', { 'baseline-shift': 'sub', 'font-size': '65%', 'font-style': 'italic', 'font-family': 'DejaVu Serif, serif' });
  addSpan(t, ' frame)', { 'baseline-shift': '0' });
  ylab(ax, 'V1(km/s)', 600, 'hodogram-v2-v1-mvav-y-axis-title');
  xlab(ax, 'V2(km/s)', 'hodogram-v2-v1-mvav-x-axis-title');
  drawPath(ax, hodoCV, BLUE, 'mvav-series');
  lambdaText(ax, '1', '2', '9.57', 'eigenvalue-ratio-text');
}
// ---- Hodogram MVAV V3 ----
{
  const xt = [-100, -80, -60, -40, -20, 0, 20, 40];
  const yt = [-100, -80, -60, -40, -20, 0, 20, 40];
  const ax = makeAxes('hodogram-v3-v1-mvav', 1229, 662, 454, 454, [-100, 40], [-100, 40], xt, xt.map(v => fmt(v, 0)), yt, yt.map(v => fmt(v, 0)), true);
  const t = title(ax, 'Hodogram (V3_V1 MVAV', 'hodogram-v3-v1-mvav-title');
  addSpan(t, 'remaining', { 'baseline-shift': 'sub', 'font-size': '65%', 'font-style': 'italic', 'font-family': 'DejaVu Serif, serif' });
  addSpan(t, ' frame)', { 'baseline-shift': '0' });
  ylab(ax, 'V1(km/s)', 1156, 'hodogram-v3-v1-mvav-y-axis-title');
  xlab(ax, 'V3(km/s)', 'hodogram-v3-v1-mvav-x-axis-title');
  drawPath(ax, hodoDV, BLUE, 'mvav-series');
  lambdaText(ax, '1', '3', '12.69', 'eigenvalue-ratio-text');
}

// ---- Time series panels ----
function timePanel(name, top, yr, yt, ylabels, titleStr, ylabStr, ylabX, series, zeroLine) {
  const ax = makeAxes(name, 117, top, 1566, 222, [0, 160], yr, timeTickSec, timeTickLabels, yt, ylabels, false);
  const tt = title(ax, titleStr, name + '-title');
  const yl = ylab(ax, ylabStr, ylabX, name + '-y-axis-title');
  if (zeroLine) {
    const z = el('line', { x1: ax.L, x2: ax.L + ax.W, y1: ax.sy(0), y2: ax.sy(0), stroke: '#000', 'stroke-width': 1.2, 'stroke-dasharray': '8,6' }, ax.dataG);
    
    
  }
  series.forEach(s => {
    const n = s.vals.length;
    const pts = s.vals.map((v, i) => [s.t ? s.t[i] : i * 160 / (n - 1), v]);
    const p = el('path', { d: pathFromPts(ax, pts), fill: 'none', stroke: s.color, 'stroke-width': 1.6, 'stroke-linejoin': 'round' }, ax.dataG);
    
    
  });
  return { ax, tt, yl };
}
function legendBox(ax, x, y, w, entries, name) {
  const lg = el('g', {}, ax.g);
  
  
  el('rect', { x: x, y: y, width: w, height: 12 + entries.length * 22, fill: '#fff', stroke: '#000', 'stroke-width': 2 }, lg);
  entries.forEach((e, i) => {
    const yy = y + 17 + i * 22;
    el('line', { x1: x + 7, x2: x + 29, y1: yy, y2: yy, stroke: e[1], 'stroke-width': 2 }, lg);
    txt(e[0], { x: x + 38, y: yy + 5, 'font-size': 13 }, lg);
  });
}
{
  const P = timePanel('magnetic-field-rtn-chart', 1305, [-40, 20], [-40, -30, -20, -10, 0, 10, 20], ['\u221240', '\u221230', '\u221220', '\u221210', '0', '10', '20'], 'Magnetic Field (RTN Frame)', 'B(nT)', 52,
    [{ vals: brVals, color: RED, name: 'br-line' }, { vals: btVals, color: GREEN, name: 'bt-line' }, { vals: bnVals, color: BLUE, name: 'bn-line' }], true);
  legendBox(P.ax, 1604, 1312, 72, [['Br', RED], ['Bt', GREEN], ['Bn', BLUE]], 'magnetic-field-rtn-legend');
}
{
  const P = timePanel('magnetic-field-flux-rope-chart', 1639, [-30, 40], [-30, -20, -10, 0, 10, 20, 30, 40], ['\u221230', '\u221220', '\u221210', '0', '10', '20', '30', '40'], 'Magnetic Field (Flux Rope Frame)', 'B(nT)', 52,
    [{ vals: bxVals, color: RED, name: 'bx-prime-line' }, { vals: byVals, color: GREEN, name: 'by-prime-line' }, { vals: bzVals, color: BLUE, name: 'bz-prime-line' }, { vals: btotVals, color: '#000', name: 'b-magnitude-line' }], true);
  legendBox(P.ax, 1602, 1646, 74, [["Bx'", RED], ["By'", GREEN], ["Bz'", BLUE], ['|B|', '#000']], 'magnetic-field-flux-rope-legend');
}
{
  const P = timePanel('solar-wind-velocity-chart', 1972, [-200, 500], [-200, -100, 0, 100, 200, 300, 400, 500], ['\u2212200', '\u2212100', '0', '100', '200', '300', '400', '500'], 'Solar Wind Velocity (RTN Frame)', 'Vsw(km/s)', 44,
    [{ vals: vrVals, color: RED, name: 'vr-line' }, { vals: vtVals, color: GREEN, name: 'vt-line' }, { vals: vnVals, color: BLUE, name: 'vn-line' }], false);
  legendBox(P.ax, 1604, 1979, 72, [['Vr', RED], ['Vt', GREEN], ['Vn', BLUE]], 'solar-wind-velocity-legend');
}
{
  const P = timePanel('plasma-beta-chart', 2305, [0.6, 1.8], [0.6, 0.8, 1.0, 1.2, 1.4, 1.6, 1.8], ['0.6', '0.8', '1.0', '1.2', '1.4', '1.6', '1.8'], 'Plasma Beta', '\u03b2', 52,
    [{ vals: betaVals, t: betaT, color: BLUE, name: 'plasma-beta-line' }], false);
  P.yl.setAttribute('font-style', 'italic');
  P.yl.setAttribute('font-family', 'DejaVu Serif, serif');
  addSpan(P.yl, 'p', { 'baseline-shift': 'sub', 'font-size': '65%' });
}
{
  timePanel('proton-density-chart', 2639, [95, 140], [95, 100, 105, 110, 115, 120, 125, 130, 135, 140], ['95', '100', '105', '110', '115', '120', '125', '130', '135', '140'], 'Proton Number Density', 'Np(#/cc)', 52,
    [{ vals: npVals, color: BLUE, name: 'proton-density-line' }], false);
}
{
  const P = timePanel('proton-temperature-chart', 2973, [0.20, 0.32], [0.20, 0.22, 0.24, 0.26, 0.28, 0.30, 0.32], ['0.20', '0.22', '0.24', '0.26', '0.28', '0.30', '0.32'], 'Proton Temperature and ', 'Tp(10\u2076K)', 46,
    [{ vals: tpVals, color: BLUE, name: 'proton-temperature-line' }], false);
  addSpan(P.tt, 'T', { 'font-style': 'italic', 'font-family': 'DejaVu Serif, serif' });
  addSpan(P.tt, 'e', { 'baseline-shift': 'sub', 'font-size': '65%', 'font-style': 'italic', 'font-family': 'DejaVu Serif, serif' });
  addSpan(P.tt, '/T', { 'baseline-shift': '0', 'font-style': 'italic', 'font-family': 'DejaVu Serif, serif' });
  addSpan(P.tt, 'p', { 'baseline-shift': 'sub', 'font-size': '65%', 'font-style': 'italic', 'font-family': 'DejaVu Serif, serif' });
  const lg = el('g', {}, P.ax.g);
  
  
  el('rect', { x: 123, y: 2980, width: 72, height: 26, fill: '#fff', stroke: '#000', 'stroke-width': 2 }, lg);
  el('line', { x1: 130, x2: 152, y1: 2993, y2: 2993, stroke: BLUE, 'stroke-width': 2 }, lg);
  txt('Tp', { x: 161, y: 2998, 'font-size': 13 }, lg);
}
</script>
</body></html>
